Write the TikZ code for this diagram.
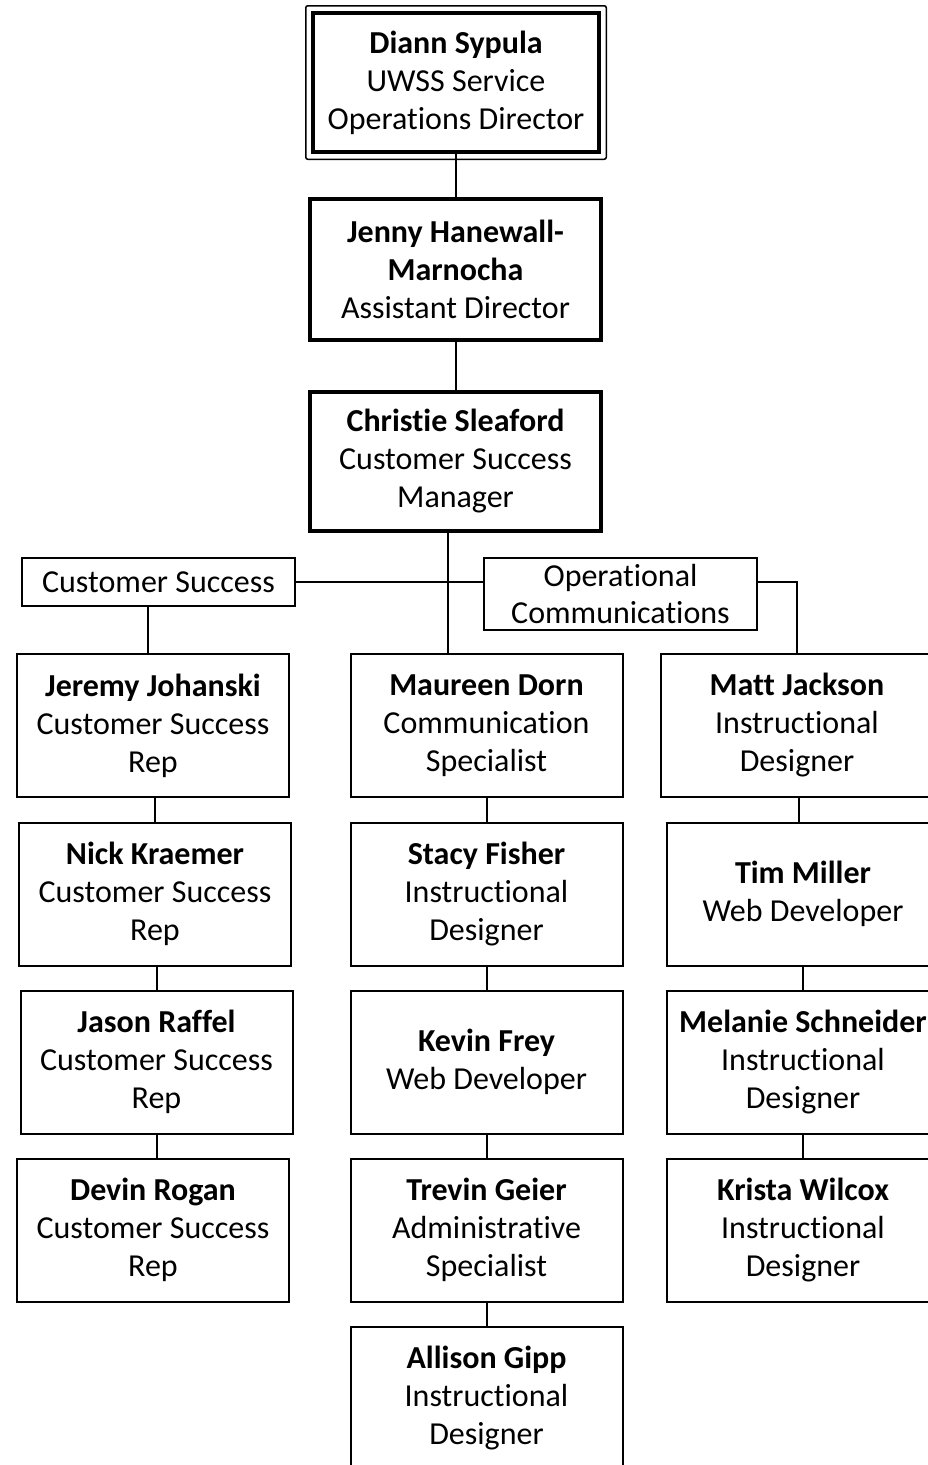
\documentclass[tikz,border=0pt]{standalone}
\usepackage{fontspec}
\setmainfont{Carlito}[Ligatures={NoCommon}]
\begin{document}
\begin{tikzpicture}[x=1pt,y=-1pt,
  box/.style={draw, line width=2pt, inner sep=0pt, align=center,
    minimum width=272pt, minimum height=143pt,
    font=\fontsize{32}{38}\selectfont},
  thickbox/.style={box, line width=4.5pt},
  labelbox/.style={draw, line width=1.6pt, inner sep=0pt, align=center,
    minimum width=273pt, font=\fontsize{32}{37}\selectfont},
  conn/.style={line width=2pt}]
\useasboundingbox (0,0) rectangle (928,1465);
\clip (0,0) rectangle (928,1465);
\fill[white] (0,0) rectangle (928,1465);

% top chain
\node[thickbox, minimum width=286pt, minimum height=139pt] (diann) at (456,82.5)
  {\textbf{Diann Sypula}\\UWSS Service\\Operations Director};
\draw[line width=1.5pt, rounded corners=2pt]
  ([shift={(-5,-5)}]diann.north west) rectangle ([shift={(5,5)}]diann.south east);
\node[thickbox, minimum width=291pt, minimum height=141pt] (jenny) at (455.5,269.5)
  {\textbf{Jenny Hanewall-}\\\textbf{Marnocha}\\Assistant Director};
\node[thickbox, minimum width=291pt, minimum height=139pt] (christie) at (455.5,461.5)
  {\textbf{Christie Sleaford}\\Customer Success\\Manager};

% group labels
\node[labelbox, minimum height=48pt] (cs) at (158.5,582) {Customer Success};
\node[labelbox, minimum height=72pt] (ops) at (620.5,594) {Operational\\Communications};

% left column
\node[box] (jeremy) at (153,725.5) {\textbf{Jeremy Johanski}\\Customer Success\\Rep};
\node[box] (nick) at (155,894) {\textbf{Nick Kraemer}\\Customer Success\\Rep};
\node[box] (jason) at (156.5,1062) {\textbf{Jason Raffel}\\Customer Success\\Rep};
\node[box] (devin) at (153,1230) {\textbf{Devin Rogan}\\Customer Success\\Rep};

% middle column
\node[box] (maureen) at (486.5,725.5) {\textbf{Maureen Dorn}\\Communication\\Specialist};
\node[box] (stacy) at (486.5,894) {\textbf{Stacy Fisher}\\Instructional\\Designer};
\node[box] (kevin) at (486.5,1062) {\textbf{Kevin Frey}\\Web Developer};
\node[box] (trevin) at (486.5,1230) {\textbf{Trevin Geier}\\Administrative\\Specialist};
\node[box] (allison) at (486.5,1398) {\textbf{Allison Gipp}\\Instructional\\Designer};

% right column
\node[box] (matt) at (797,725.5) {\textbf{Matt Jackson}\\Instructional\\Designer};
\node[box] (tim) at (803,894) {\textbf{Tim Miller}\\Web Developer};
\node[box] (melanie) at (803,1062) {\textbf{Melanie Schneider}\\Instructional\\Designer};
\node[box] (krista) at (803,1230) {\textbf{Krista Wilcox}\\Instructional\\Designer};

% helper coordinates
\coordinate (cx) at (448,0);
\coordinate (csx) at (148,0);
\coordinate (mtx) at (799,0);

% connectors
\draw[conn] (diann.south) -- (diann.south |- jenny.north);
\draw[conn] (jenny.south) -- (jenny.south |- christie.north);
\draw[conn] (christie.south -| cx) -- (maureen.north -| cx);
\draw[conn] (cs.east) -- (cs.east -| ops.west);
\draw[conn] (cs.east -| ops.east) -- (cs.east -| matt.north) -- (matt.north);
\draw[conn] (cs.south -| csx) -- (jeremy.north -| csx);

\draw[conn] (jeremy.south -| nick.north) -- (nick.north);
\draw[conn] (nick.south -| jason.north) -- (jason.north);
\draw[conn] (jason.south) -- (jason.south |- devin.north);

\draw[conn] (maureen.south) -- (stacy.north);
\draw[conn] (stacy.south) -- (kevin.north);
\draw[conn] (kevin.south) -- (trevin.north);
\draw[conn] (trevin.south) -- (allison.north);

\draw[conn] (matt.south -| mtx) -- (tim.north -| mtx);
\draw[conn] (tim.south) -- (melanie.north);
\draw[conn] (melanie.south) -- (krista.north);
\end{tikzpicture}
\end{document}
